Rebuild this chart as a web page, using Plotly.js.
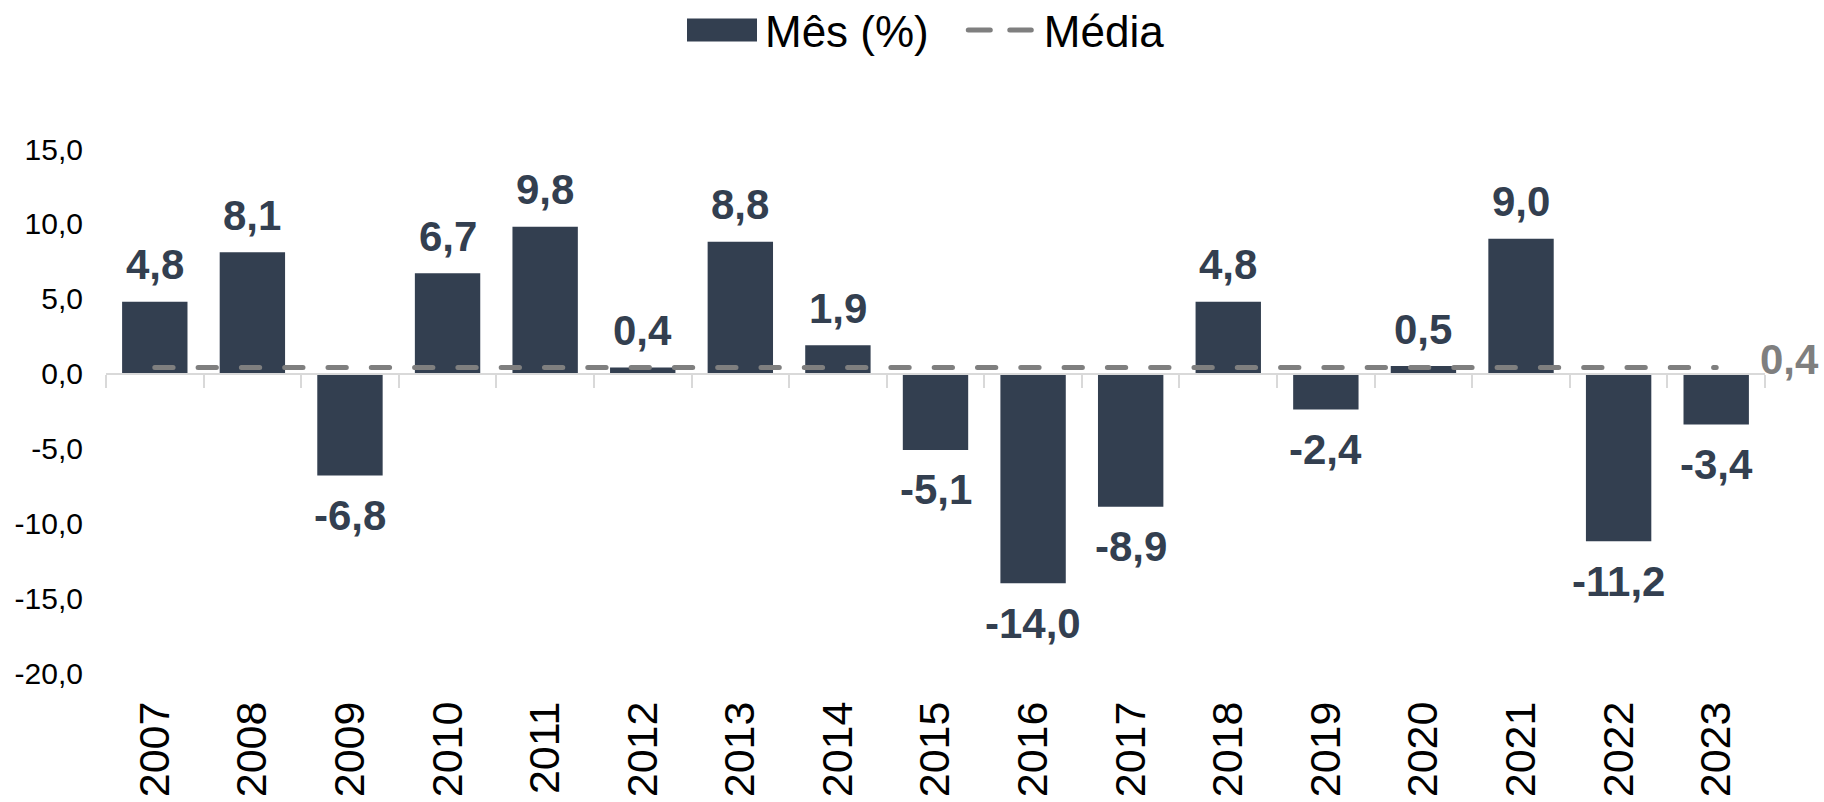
<!DOCTYPE html>
<html>
<head>
<meta charset="utf-8">
<script src="https://cdn.plot.ly/plotly-3.0.1.min.js"></script>
<style>
  html, body { margin: 0; padding: 0; background: #ffffff; }
  #chart { width: 1824px; height: 802px; }
  .scatterlayer .js-line, .legend .js-line { stroke-linecap: round; }
</style>
</head>
<body>
<div id="chart"></div>
<script>
// ---- data ----
const years = ['2007','2008','2009','2010','2011','2012','2013','2014','2015','2016','2017','2018','2019','2020','2021','2022','2023'];
const monthly = [4.8, 8.1, -6.8, 6.7, 9.8, 0.4, 8.8, 1.9, -5.1, -14.0, -8.9, 4.8, -2.4, 0.5, 9.0, -11.2, -3.4];
const mean = [0.4, 0.4, 0.4, 0.4, 0.4, 0.4, 0.4, 0.4, 0.4, 0.4, 0.4, 0.4, 0.4, 0.4, 0.4, 0.4, 0.4];
const yTicks = [-20, -15, -10, -5, 0, 5, 10, 15];
const seriesNames = ['Mês (%)', 'Média'];

// ---- style ----
const BAR = '#333f50';
const GREY = '#7f7f7f';
const AXIS = '#d9d9d9';
const FONT = 'Liberation Sans, Arial, sans-serif';
const fmt = v => v.toFixed(1).replace('.', ',');
const yRange = [-20, 15];
const xRange = [-0.5, years.length - 0.5];

const traces = [
  {
    type: 'bar', name: seriesNames[0], x: years, y: monthly,
    marker: { color: BAR }, hoverinfo: 'x+y'
  },
  {
    type: 'scatter', mode: 'lines', name: seriesNames[1], x: years, y: mean,
    line: { color: GREY, width: 5, dash: '18.3px,25px' }, hoverinfo: 'x+y'
  },
  {
    type: 'scatter', mode: 'markers', x: years, y: mean, xaxis: 'x2',
    showlegend: false, hoverinfo: 'skip', marker: { size: 0, opacity: 0 }
  }
];

// data labels (category index used as x so numeric-looking years are not read as numbers)
const annotations = monthly.map((v, i) => ({
  x: i, y: v, xref: 'x', yref: 'y',
  text: fmt(v), showarrow: false,
  yanchor: 'middle', yshift: v >= 0 ? 37 : -40,
  font: { family: FONT, size: 42, color: BAR, weight: 'bold' }
}));
annotations.push({
  x: years.length - 1, y: mean[mean.length - 1], xref: 'x', yref: 'y',
  text: fmt(mean[mean.length - 1]), showarrow: false,
  xanchor: 'left', yanchor: 'middle', xshift: 42, yshift: 8,
  font: { family: FONT, size: 42, color: GREY, weight: 'bold' }
});

const layout = {
  width: 1824, height: 802,
  margin: { l: 106, r: 59, t: 149, b: 129, pad: 0 },
  paper_bgcolor: '#ffffff', plot_bgcolor: '#ffffff',
  font: { family: FONT, color: '#000000' },
  bargap: 0.33,
  showlegend: true,
  legend: {
    orientation: 'h', xref: 'container', yref: 'container',
    x: 0.507, xanchor: 'center', y: 0.962, yanchor: 'middle',
    font: { family: FONT, size: 44, color: '#000000' },
    itemwidth: 100, traceorder: 'normal', itemclick: false
  },
  xaxis: {
    type: 'category', range: xRange, showline: false, ticks: '', showgrid: false, zeroline: false,
    tickangle: -90, tickfont: { family: FONT, size: 43, color: '#000000' },
    ticklabelstandoff: 19, fixedrange: true
  },
  xaxis2: {
    type: 'category', range: xRange, overlaying: 'x', anchor: 'free',
    position: (0 - yRange[0]) / (yRange[1] - yRange[0]), side: 'bottom',
    showline: true, linecolor: AXIS, linewidth: 2,
    ticks: 'outside', tickson: 'boundaries', ticklen: 13, tickcolor: AXIS, tickwidth: 2,
    showticklabels: false, showgrid: false, zeroline: false, fixedrange: true
  },
  yaxis: {
    range: yRange, showgrid: false, zeroline: false, showline: false, ticks: '',
    tickvals: yTicks, ticktext: yTicks.map(fmt),
    tickfont: { family: FONT, size: 30, color: '#000000' },
    ticklabelstandoff: 22, fixedrange: true
  },
  annotations: annotations
};

function toLocalX(el, screenX) {
  const m = el.getScreenCTM();
  return (screenX - m.e) / m.a;
}

Plotly.newPlot('chart', traces, layout, { displayModeBar: false, staticPlot: true }).then(gd => {
  const legend = gd.querySelector('g.legend');
  const items = gd.querySelectorAll('.legend .traces');
  // align legend so the first label starts where the reference's does
  if (legend && items[0]) {
    const t0 = items[0].querySelector('text.legendtext');
    const dx = 765 - t0.getBoundingClientRect().left;
    const tr = legend.getAttribute('transform') || '';
    const mm = tr.match(/translate\(\s*([-\d.]+)[ ,]+([-\d.]+)\s*\)/);
    if (mm) legend.setAttribute('transform', 'translate(' + (parseFloat(mm[1]) + dx) + ',' + mm[2] + ')');
  }
  if (items[0]) {
    const t = items[0].querySelector('text.legendtext');
    const p = items[0].querySelector('.legendpoints path');
    if (t && p) {
      const L = t.getBoundingClientRect().left;
      const a = toLocalX(p, L - 78), b = toLocalX(p, L - 8);
      p.setAttribute('d', 'M' + a + ',-11.5H' + b + 'V11.5H' + a + 'Z');
    }
  }
  if (items[1]) {
    const t = items[1].querySelector('text.legendtext');
    const l = items[1].querySelector('.js-line');
    if (t && l) {
      const L = t.getBoundingClientRect().left;
      const a = toLocalX(l, L - 75.5), b = toLocalX(l, L - 12.5);
      l.setAttribute('d', 'M' + a + ',0H' + b);
      l.style.strokeDasharray = '22px,19.5px';
    }
  }
  const clip = gd.querySelectorAll('.legend .scrollbox, .legend');
  clip.forEach(c => c.removeAttribute('clip-path'));
});
</script>
</body>
</html>
